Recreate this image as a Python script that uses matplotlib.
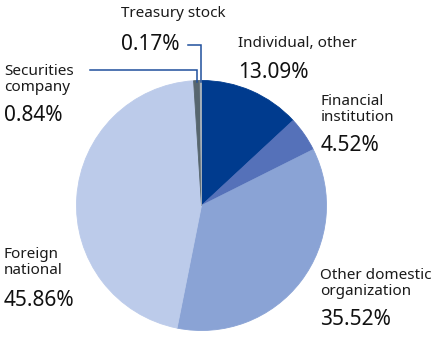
import matplotlib.pyplot as plt
import numpy as np

# shareholder composition, clockwise from 12 o'clock
categories = ['Individual, other', 'Financial\ninstitution', 'Other domestic\norganization',
              'Foreign\nnational', 'Securities\ncompany', 'Treasury stock']
shares = [13.09, 4.52, 35.52, 45.86, 0.84, 0.17]
colors = ['#003b8e', '#5571b9', '#8aa3d5', '#bccbea', '#57666f', '#a9b3bd']

# label anchor (left x, baseline y of last name line, baseline y of percent) in pixels
label_pos = [(238, 47, 78), (321, 121, 151), (320, 295, 325),
             (4, 274, 306), (4, 91, 121), (121, 17, 50)]

W, H = 439, 345
cx, cy, r = 201.5, 205.5, 125

fig = plt.figure(figsize=(W / 100, H / 100), dpi=100)
ax = fig.add_axes([0, 0, 1, 1])

wedges, _ = ax.pie(shares, colors=colors, startangle=90, counterclock=False,
                   center=(cx, H - cy), radius=r, wedgeprops=dict(linewidth=0.6))
for w in wedges:
    w.set_edgecolor(w.get_facecolor())

# pie() resets the limits, so fix the pixel frame afterwards
ax.set_xlim(0, W)
ax.set_ylim(0, H)
ax.set_aspect('equal')
ax.axis('off')

font = 'Noto Sans'
for name, val, (x, yl, yp) in zip(categories, shares, label_pos):
    ax.text(x, H - yl, name, fontsize=11, family=font, color='#1a1a1a',
            va='baseline', ha='left', linespacing=1.12)
    ax.text(x, H - yp, f'{val:.2f}%', fontsize=15, family=font, color='#111111',
            va='baseline', ha='left')

# leader lines for the two thin slices
ends = np.cumsum(shares)
starts = ends - np.array(shares)
line_c = '#1f4f9c'
for i, ly, lx0 in [(4, 69.5, 90), (5, 44.5, 188)]:
    mid = np.radians(90 - (starts[i] + ends[i]) / 2 * 3.6)
    xm = cx + r * np.cos(mid)
    ym = H - cy + r * np.sin(mid) - 1
    ax.plot([lx0, xm, xm], [H - ly, H - ly, ym],
            color=line_c, lw=1.1, solid_joinstyle='miter')

fig.savefig('out.png', dpi=100)
